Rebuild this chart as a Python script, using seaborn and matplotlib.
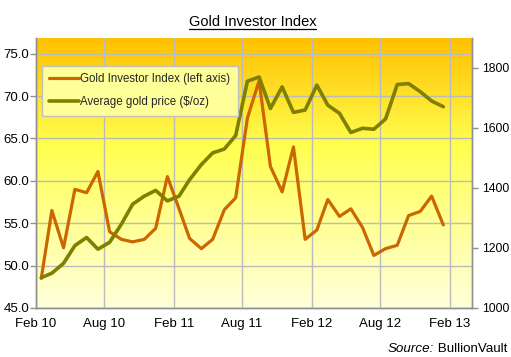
import numpy as np
import pandas as pd
import matplotlib
matplotlib.use("Agg")
import matplotlib.pyplot as plt
import matplotlib.dates as mdates
from matplotlib.colors import LinearSegmentedColormap
from matplotlib.lines import Line2D
import seaborn as sns

# ---- data ----
months = pd.date_range("2010-02-01", "2013-01-01", freq="MS")
investor_index = [48.5, 56.5, 52.1, 59.0, 58.6, 61.1, 54.0, 53.1, 52.8, 53.1,
                  54.4, 60.5, 56.7, 53.2, 52.0, 53.1, 56.6, 58.0, 67.4, 71.8,
                  61.7, 58.7, 64.0, 53.1, 54.2, 57.8, 55.8, 56.7, 54.5, 51.2,
                  52.0, 52.4, 55.9, 56.4, 58.2, 54.8]
gold_price = [1101, 1116, 1149, 1208, 1235, 1196, 1219, 1279, 1346, 1373,
              1392, 1357, 1373, 1428, 1478, 1517, 1530, 1575, 1756, 1770,
              1665, 1737, 1652, 1660, 1743, 1676, 1649, 1585, 1599, 1596,
              1630, 1745, 1748, 1721, 1690, 1671]
x_ticks = pd.date_range("2010-02-01", "2013-02-01", freq="6MS")
left_ticks = [45, 50, 55, 60, 65, 70, 75]
right_ticks = [1000, 1200, 1400, 1600, 1800]
labels = ["Gold Investor Index (left axis)", "Average gold price ($/oz)"]

df = pd.DataFrame({"date": months + pd.Timedelta(days=14),
                   "index": investor_index, "price": gold_price})

sns.set_style("white")
plt.rcParams["font.family"] = ["Liberation Sans", "DejaVu Sans"]

fig = plt.figure(figsize=(5.11, 3.57), dpi=100)
W, H = 511, 357
ax = fig.add_axes([36 / W, (H - 308) / H, 436 / W, 270 / H])
ax2 = ax.twinx()

# gradient background
cmap = LinearSegmentedColormap.from_list(
    "bg", [(0.0, "#FFFFDC"), (0.35, "#FFFF8C"), (0.6, "#FFFF50"), (1.0, "#FFC000")])
grad = np.linspace(0, 1, 256).reshape(-1, 1)
ax.imshow(grad, cmap=cmap, origin="lower", extent=[0, 1, 0, 1],
          transform=ax.transAxes, aspect="auto", zorder=0)

orange = "#CC6600"
olive = "#7F7F00"
sns.lineplot(data=df, x="date", y="index", ax=ax, color=orange, lw=2.3, zorder=3)
sns.lineplot(data=df, x="date", y="price", ax=ax2, color=olive, lw=2.6, zorder=3)

ax.set_xlim(pd.Timestamp("2010-02-01"), pd.Timestamp("2013-04-01"))
ax.set_ylim(45, 76.85)
ax2.set_ylim(1000, 1900)
ax.set_xticks(x_ticks)
ax.xaxis.set_major_formatter(mdates.DateFormatter("%b %y"))
ax.set_yticks(left_ticks)
ax.set_yticklabels([f"{v:.1f}" for v in left_ticks])
ax2.set_yticks(right_ticks)
ax2.set_yticklabels([str(v) for v in right_ticks])
ax.set_xlabel("")
ax.set_ylabel("")
ax2.set_ylabel("")

ax.grid(True, color="#BBBBBB", lw=1.0, zorder=1)
ax.set_axisbelow(False)
for a in (ax, ax2):
    a.patch.set_visible(False)
    a.spines["top"].set_visible(False)
    for s in ("left", "right", "bottom"):
        a.spines[s].set_color("#909090")
        a.spines[s].set_linewidth(1.0)
    a.tick_params(axis="both", direction="out", length=4, width=1, color="#909090",
                  labelsize=9.5, labelcolor="#000000", pad=2)
ax.tick_params(axis="x", pad=3)
ax.tick_params(axis="y", pad=1)
ax2.tick_params(axis="y", pad=3, labelsize=8.8)

handles = [Line2D([], [], color=orange, lw=2.3), Line2D([], [], color=olive, lw=2.6)]
leg = ax2.legend(handles, labels, loc="upper left",
                 bbox_to_anchor=((42 - 36) / 436, (308 - 66) / 270),
                 borderaxespad=0, frameon=True, fancybox=False, framealpha=1,
                 facecolor="#FFFF99", edgecolor="#BFBFBF", fontsize=8.3,
                 handlelength=2.6, handletextpad=0.05, labelspacing=0.95,
                 borderpad=0.65)
leg.get_frame().set_linewidth(1.0)
leg.set_zorder(10)

renderer = fig.canvas.get_renderer()
# title with underline
t = fig.text(252.5 / W, (H - 26) / H, "Gold Investor Index", ha="center",
             va="baseline", fontsize=10.5, color="#000000")
bb = t.get_window_extent(renderer)
uy = (H - 28.5) / H
fig.add_artist(Line2D([bb.x0 / W, bb.x1 / W], [uy, uy], transform=fig.transFigure,
                      color="#000000", lw=0.9))

# source note
s2 = fig.text(507 / W, (H - 352) / H, " BullionVault", ha="right",
              va="baseline", fontsize=9.6, color="#000000")
b2 = s2.get_window_extent(renderer)
fig.text(b2.x0 / W, (H - 352) / H, "Source:", ha="right", va="baseline",
         fontsize=9.6, style="italic", color="#000000")

fig.savefig("out.png", dpi=100)
